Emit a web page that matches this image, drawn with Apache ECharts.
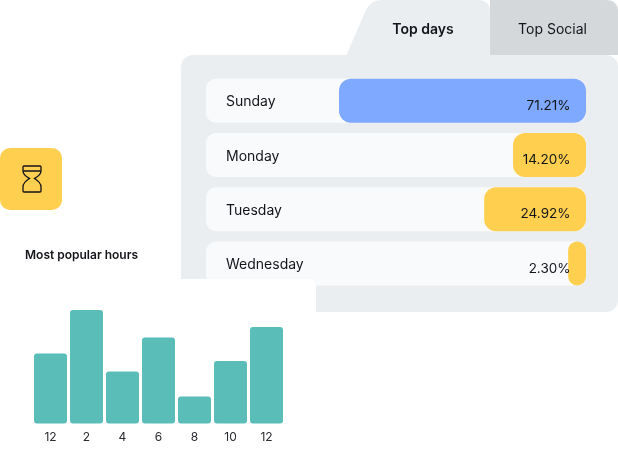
<!DOCTYPE html>
<html lang="en">
<head>
    <meta charset="UTF-8">
    <title>Top days</title>
    <script src="https://cdn.jsdelivr.net/npm/echarts@6/dist/echarts.min.js"></script>
    <style>
        html, body { margin: 0; padding: 0; background: #fff; }
        #container { width: 618px; height: 464px; }
    </style>
</head>
<body>
<div id="container"></div>
<script>
    // top days
    var days = ['Sunday', 'Monday', 'Tuesday', 'Wednesday'];
    var dayLabels = ['71.21%', '14.20%', '24.92%', '2.30%'];
    // bar lengths as drawn, in percent of the track (they do not follow the labels)
    var dayBars = [65, 19.2, 26.8, 4.7];
    var dayTrack = [100, 100, 100, 100];
    var dayColors = ['#7fa8ff', '#ffcf4f', '#ffcf4f', '#ffcf4f'];

    // most popular hours
    var hours = ['12', '2', '4', '6', '8', '10', '12'];
    var hourValues = [70, 113.5, 52, 86, 27, 62.5, 96.5];

    var textColor = '#14151a';
    var fontName = 'Inter';

    // shapes for the graphic component
    echarts.graphic.registerShape('tabGray', echarts.graphic.extendPath('M490,55 V0 H606 Q618,0 618,12 V55 Z'));
    echarts.graphic.registerShape('tabActive', echarts.graphic.extendPath('M346,56 L366,10 Q371,0 381,0 H478 Q490,0 490,12 V56 Z'));
    echarts.graphic.registerShape('hourglass', echarts.graphic.extendPath('M24,166 H40 Q41,166 41,167 V171 C41,175 37,177 34.5,178.5 C37,180 41,183 41,187 V191 Q41,192 40,192 H24 Q23,192 23,191 V187 C23,183 27,180 29.5,178.5 C27,177 23,175 23,171 V167 Q23,166 24,166 Z M23,171 H41'));

    var myChart = echarts.init(document.getElementById('container'));

    var option = {
        animation: false,
        backgroundColor: '#fff',
        textStyle: { fontFamily: fontName, color: textColor },
        graphic: [
            // tabs and panel
            { type: 'tabGray', z: -3, style: { fill: '#d5d8db' } },
            { type: 'tabActive', z: -2, style: { fill: '#ebeef1' } },
            { type: 'rect', z: -1, shape: { x: 181, y: 55, width: 437, height: 257, r: 12 }, style: { fill: '#ebeef1' } },
            { type: 'text', z: 1, x: 423, y: 30, style: { text: 'Top days', font: '600 14px Inter', fill: textColor, textAlign: 'center', textVerticalAlign: 'middle' } },
            { type: 'text', z: 1, x: 552.5, y: 30, style: { text: 'Top Social', font: '400 14px Inter', fill: textColor, textAlign: 'center', textVerticalAlign: 'middle' } },
            // icon
            { type: 'rect', z: 1, shape: { x: 0, y: 148, width: 62, height: 62, r: 10 }, style: { fill: '#ffcf4f' } },
            { type: 'hourglass', z: 2, style: { fill: 'none', stroke: '#14151a', lineWidth: 1.3 } },
            { type: 'text', z: 1, x: 25, y: 255, style: { text: 'Most popular hours', font: '600 12px Inter', fill: textColor, textVerticalAlign: 'middle' } },
            // white card over the panel
            { type: 'rect', z: 4, shape: { x: -12, y: 279, width: 328, height: 197, r: 6 }, style: { fill: '#fff' } }
        ],
        grid: [
            { left: 206, top: 73.6, width: 380, height: 217 },
            { left: 32.5, top: 299.5, width: 252, height: 124 }
        ],
        xAxis: [
            { gridIndex: 0, type: 'value', min: 0, max: 100, inverse: true, show: false },
            {
                gridIndex: 1, type: 'category', data: hours, z: 6,
                axisLine: { show: false }, axisTick: { show: false },
                axisLabel: { fontFamily: fontName, fontSize: 12, color: '#2a2b30', margin: 8, interval: 0 }
            }
        ],
        yAxis: [
            {
                gridIndex: 0, type: 'category', data: days, inverse: true, position: 'left', z: 3,
                axisLine: { show: false, onZero: false }, axisTick: { show: false },
                axisLabel: {
                    inside: true, margin: 20, align: 'left',
                    formatter: '{d|{value}}',
                    rich: { d: { padding: [3, 0, 0, 0], fontFamily: fontName, fontSize: 14, color: textColor } }
                }
            },
            { gridIndex: 1, type: 'value', min: 0, max: 124, show: false }
        ],
        series: [
            {
                type: 'bar', xAxisIndex: 0, yAxisIndex: 0, z: 2, data: dayTrack, barWidth: 44, barGap: '-100%',
                silent: true,
                itemStyle: { color: '#f9fafc', borderRadius: 10 }
            },
            {
                type: 'bar', xAxisIndex: 0, yAxisIndex: 0, z: 2, barWidth: 44, barGap: '-100%',
                data: dayBars.map(function (v, i) {
                    return { value: v, itemStyle: { color: dayColors[i] } };
                }),
                itemStyle: { borderRadius: 12 },
                label: {
                    show: true, position: 'insideRight', distance: 15.5, offset: [0, 5],
                    fontFamily: fontName, fontSize: 13.5, color: textColor,
                    formatter: function (p) { return dayLabels[p.dataIndex]; }
                }
            },
            {
                type: 'bar', xAxisIndex: 1, yAxisIndex: 1, z: 5, data: hourValues, barWidth: 33,
                itemStyle: { color: '#5bbdb7', borderRadius: 3 }
            }
        ]
    };

    myChart.setOption(option);
</script>
</body>
</html>
